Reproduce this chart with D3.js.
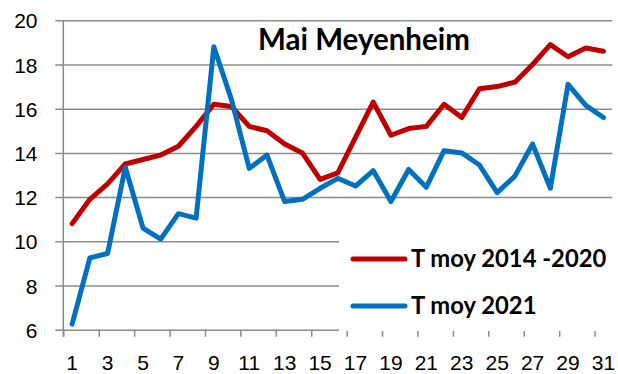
<!DOCTYPE html>
<html>
<head>
<meta charset="utf-8">
<script src="https://cdn.jsdelivr.net/npm/d3@7"></script>
<style>
  html, body { margin: 0; padding: 0; background: #fff; }
  svg { display: block; font-family: Lato, "Open Sans", sans-serif; }
</style>
</head>
<body>
<svg id="chart" width="618" height="374"></svg>
<script>
// Daily mean temperature, May, Meyenheim
const days = d3.range(1, 32);
const seriesNames = ["T moy 2014 -2020", "T moy 2021"];
const tMoy20142020 = [10.8, 11.9, 12.6, 13.5, 13.7, 13.9, 14.3, 15.2, 16.2, 16.1,
                      15.2, 15.0, 14.4, 14.0, 12.8, 13.1, 14.7, 16.3, 14.8, 15.1,
                      15.2, 16.2, 15.6, 16.9, 17.0, 17.2, 18.0, 18.9, 18.35, 18.75, 18.6];
const tMoy2021 = [6.25, 9.25, 9.45, 13.35, 10.6, 10.1, 11.25, 11.05, 18.8, 16.4,
                  13.3, 13.9, 11.8, 11.9, 12.4, 12.85, 12.5, 13.2, 11.8, 13.25,
                  12.45, 14.1, 14.0, 13.45, 12.2, 12.95, 14.4, 12.4, 17.1, 16.15, 15.6];
const yTicks = [6, 8, 10, 12, 14, 16, 18, 20];
const xLabelDays = days.filter(d => d % 2 === 1);
const colors = ["#C00000", "#0070C0"];
const title = "Mai Meyenheim";

const svg = d3.select("#chart");
const plotLeft = 63.3, plotRight = 612.3, plotTop = 20.3, plotBottom = 329.7;

const x = d3.scaleBand().domain(days).range([plotLeft, plotRight]).padding(0);
const xEdge = d3.scaleLinear().domain([0, days.length]).range([plotLeft, plotRight]);
const y = d3.scaleLinear().domain([6, 20]).range([plotBottom, plotTop]);

// horizontal gridlines + y labels
const yAxis = d3.axisLeft(y).tickValues(yTicks).tickSize(0).tickFormat(d3.format("d"));
const gy = svg.append("g").attr("transform", `translate(${plotLeft - 8},0)`).call(yAxis);
gy.select(".domain").remove();
gy.selectAll(".tick line").attr("stroke", "#8c8c8c").attr("stroke-width", 1.5)
  .attr("x1", 0).attr("x2", plotRight - plotLeft + 8);
gy.selectAll(".tick text").attr("font-size", 21).attr("fill", "#000")
  .attr("x", 37.5 - (plotLeft - 8)).attr("text-anchor", "end").attr("dy", "0.36em");

// vertical axis line
svg.append("line").attr("x1", plotLeft).attr("x2", plotLeft).attr("y1", plotTop).attr("y2", plotBottom + 7)
  .attr("stroke", "#8c8c8c").attr("stroke-width", 1.5);

// x tick marks between every second day
const gxTicks = svg.append("g").attr("transform", `translate(0,${plotBottom})`)
  .call(d3.axisBottom(xEdge).tickValues(d3.range(0, 31, 2)).tickSize(7).tickFormat(""));
gxTicks.select(".domain").remove();
gxTicks.selectAll(".tick line").attr("stroke", "#8c8c8c").attr("stroke-width", 1.5);

// x labels at odd days
const gx = svg.append("g").attr("transform", `translate(0,${plotBottom})`)
  .call(d3.axisBottom(x).tickValues(xLabelDays).tickSize(0));
gx.select(".domain").remove();
gx.selectAll(".tick text").attr("font-size", 21).attr("fill", "#000").attr("y", 40.5).attr("dy", 0);

// series lines
const line = d3.line().x((d, i) => x(days[i]) + x.bandwidth() / 2).y(d => y(d));
[tMoy20142020, tMoy2021].forEach((vals, i) => {
  svg.append("path").datum(vals).attr("d", line)
    .attr("fill", "none").attr("stroke", colors[i]).attr("stroke-width", 5)
    .attr("stroke-linejoin", "round").attr("stroke-linecap", "round");
});

// title
svg.append("text").attr("x", 364).attr("y", 50).attr("text-anchor", "middle")
  .attr("font-size", 29.5).attr("font-weight", "bold").attr("fill", "#000").text(title);

// legend
const lg = svg.append("g");
lg.append("rect").attr("x", 339).attr("y", 214).attr("width", 279).attr("height", 117).attr("fill", "#fff");
seriesNames.forEach((name, i) => {
  const ly = 259 + i * 47;
  lg.append("line").attr("x1", 353).attr("x2", 405).attr("y1", ly).attr("y2", ly)
    .attr("stroke", colors[i]).attr("stroke-width", 5).attr("stroke-linecap", "round");
  lg.append("text").attr("x", 411).attr("y", ly + 8).attr("font-size", 23.8)
    .attr("font-weight", "bold").attr("fill", "#000").text(name);
});
</script>
</body>
</html>
